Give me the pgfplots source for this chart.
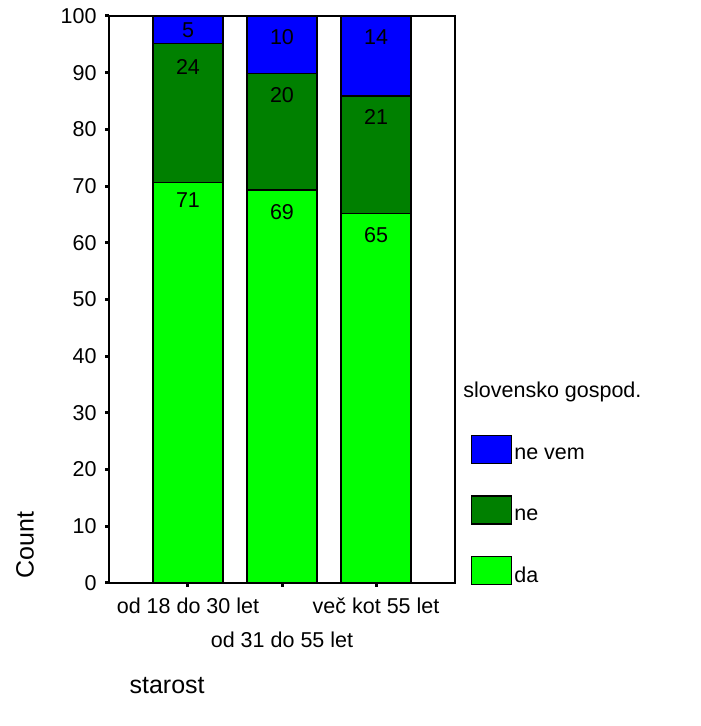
\documentclass[border=0pt]{standalone}
\usepackage{fontspec}
\setmainfont{Liberation Sans}
\usepackage{pgfplots}
\pgfplotsset{compat=1.18}
\definecolor{lgreen}{RGB}{0,255,0}
\definecolor{dgreen}{RGB}{0,128,0}
\definecolor{sblue}{RGB}{0,0,255}
\newcommand{\lblfont}{\fontsize{21.5}{25}\selectfont}
\newcommand{\axfont}{\fontsize{25}{30}\selectfont}
\pgfplotsset{boxlegend/.style={legend image code/.code={%
    \draw[##1,draw=black,line width=1.2pt] (0pt,-9pt) rectangle (40pt,19pt);}}}

\begin{document}
\begin{tikzpicture}
\useasboundingbox (0,0) rectangle (701pt,726pt);
\begin{axis}[
    at={(109pt,143pt)}, anchor=south west,
    scale only axis, width=346pt, height=567pt,
    ybar stacked, bar width=70pt,
    xmin=-0.84, xmax=2.84, ymin=0, ymax=100,
    xtick={0,1,2},
    xticklabels={od 18 do 30 let, {\mbox{}\\[25pt]od 31 do 55 let}, več kot 55 let},
    xticklabel style={align=center, font=\lblfont, yshift=-7pt},
    ytick={0,10,...,100},
    yticklabel style={font=\lblfont, xshift=-5pt},
    /pgf/number format/assume math mode=true,
    xtick pos=left, ytick pos=left,
    tick align=outside, major tick length=4pt,
    tick style={line width=3pt, black},
    axis line style={line width=1.2pt},
    xlabel={starost}, ylabel={Count},
    every axis x label/.style={at={(axis description cs:0.168,-0.18)}, anchor=center, font=\axfont},
    every axis y label/.style={at={(axis description cs:-0.243,0.067)}, rotate=90, anchor=center, font=\axfont},
    reverse legend,
    legend style={at={(1.046,0.261)}, anchor=north west, draw=none, fill=none,
        inner sep=0pt, row sep=31pt, font=\lblfont, cells={anchor=west}},
    every axis plot/.append style={draw=black, line width=1.2pt},
    after end axis/.code={
        \node[font=\lblfont] at (axis cs:0,67.5) {71};
        \node[font=\lblfont] at (axis cs:0,91.0) {24};
        \node[font=\lblfont] at (axis cs:0,97.5) {5};
        \node[font=\lblfont] at (axis cs:1,65.4) {69};
        \node[font=\lblfont] at (axis cs:1,86.1) {20};
        \node[font=\lblfont] at (axis cs:1,96.3) {10};
        \node[font=\lblfont] at (axis cs:2,61.4) {65};
        \node[font=\lblfont] at (axis cs:2,82.2) {21};
        \node[font=\lblfont] at (axis cs:2,96.3) {14};
        \node[font=\lblfont, anchor=west] at (rel axis cs:1.014,0.337) {slovensko gospod.};
    },
]
\addplot[fill=lgreen, boxlegend] coordinates {(0,70.7) (1,69.3) (2,65.1)};
\addplot[fill=dgreen, boxlegend] coordinates {(0,24.4) (1,20.6) (2,20.8)};
\addplot[fill=sblue, boxlegend] coordinates {(0,4.9) (1,10.1) (2,14.1)};
\legend{da, ne, ne vem}
\end{axis}
\end{tikzpicture}
\end{document}
